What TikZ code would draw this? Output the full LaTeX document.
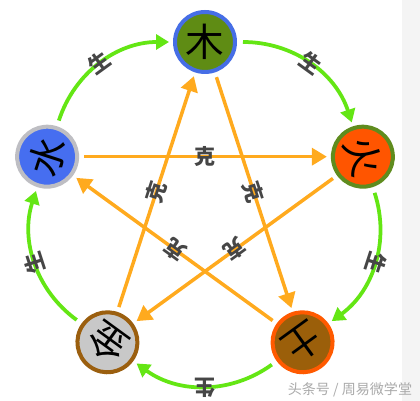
\documentclass[tikz,border=0pt]{standalone}
\usepackage{fontspec}
\newfontfamily\cjk{Noto Sans CJK SC}
\usetikzlibrary{arrows.meta}

\definecolor{woodG}{RGB}{95,140,20}
\definecolor{woodB}{RGB}{70,110,230}
\definecolor{fireO}{RGB}{255,85,0}
\definecolor{fireB}{RGB}{95,140,30}
\definecolor{earthB}{RGB}{155,95,10}
\definecolor{earthO}{RGB}{255,90,0}
\definecolor{metalG}{RGB}{200,200,200}
\definecolor{metalB}{RGB}{155,95,15}
\definecolor{waterB}{RGB}{70,110,240}
\definecolor{waterG}{RGB}{190,190,195}
\definecolor{shengG}{RGB}{100,230,20}
\definecolor{keO}{RGB}{255,170,30}
\definecolor{labelgray}{RGB}{70,70,70}
\definecolor{markgray}{RGB}{170,170,170}
\definecolor{stripgray}{RGB}{244,244,244}

\begin{document}
\begin{tikzpicture}[x=0.02cm,y=0.02cm,
    element/.style={circle,minimum size=1.2cm,inner sep=0pt,line width=0.08cm,
        font=\cjk\fontsize{22}{22}\selectfont},
    sheng/.style={draw=shengG,line width=0.075cm,shorten <=0.12cm,shorten >=0.08cm,
        -{Triangle[length=0.26cm,width=0.3cm]}},
    ke/.style={draw=keO,line width=0.07cm,shorten <=0.1cm,shorten >=0.08cm,
        -{Triangle[length=0.3cm,width=0.34cm]}},
    shenglabel/.style={midway,sloped,allow upside down,above=-9pt,text=labelgray,
        font=\cjk\bfseries\fontsize{12}{12}\selectfont},
    kelabel/.style={midway,sloped,allow upside down,text=labelgray,
        font=\cjk\bfseries\fontsize{12}{12}\selectfont},
]
    \fill[white] (-205,-193) rectangle (215,208);
    \fill[stripgray] (197,-193) rectangle (215,208);
    \useasboundingbox (-205,-193) rectangle (215,208);

    \node[element,fill=woodG,draw=woodB] (wood) at (90:166) {木};
    \node[element,fill=fireO,draw=fireB,rotate=-72] (fire) at (18:166) {火};
    \node[element,fill=earthB,draw=earthO,rotate=-144] (earth) at (-54:166) {土};
    \node[element,fill=metalG,draw=metalB,rotate=144] (metal) at (234:166) {金};
    \node[element,fill=waterB,draw=waterG,rotate=72] (water) at (162:166) {水};

    % ke
    \draw[ke] (wood) -- (earth) node[kelabel] {克};
    \draw[ke] (earth) -- (water) node[kelabel] {克};
    \draw[ke] (water) -- (fire) node[kelabel] {克};
    \draw[ke] (fire) -- (metal) node[kelabel] {克};
    \draw[ke] (metal) -- (wood) node[kelabel] {克};

    % sheng
    \draw[sheng] (water) to[bend left=36] node[shenglabel] {生} (wood);
    \draw[sheng] (wood) to[bend left=36] node[shenglabel] {生} (fire);
    \draw[sheng] (fire) to[bend left=36] node[shenglabel] {生} (earth);
    \draw[sheng] (earth) to[bend left=36] node[shenglabel] {生} (metal);
    \draw[sheng] (metal) to[bend left=36] node[shenglabel] {生} (water);

    \node[text=markgray,font=\cjk\fontsize{8}{8}\selectfont] (mark) at (145,-182)
        {头条号 / 周易微学堂};
\end{tikzpicture}
\end{document}
